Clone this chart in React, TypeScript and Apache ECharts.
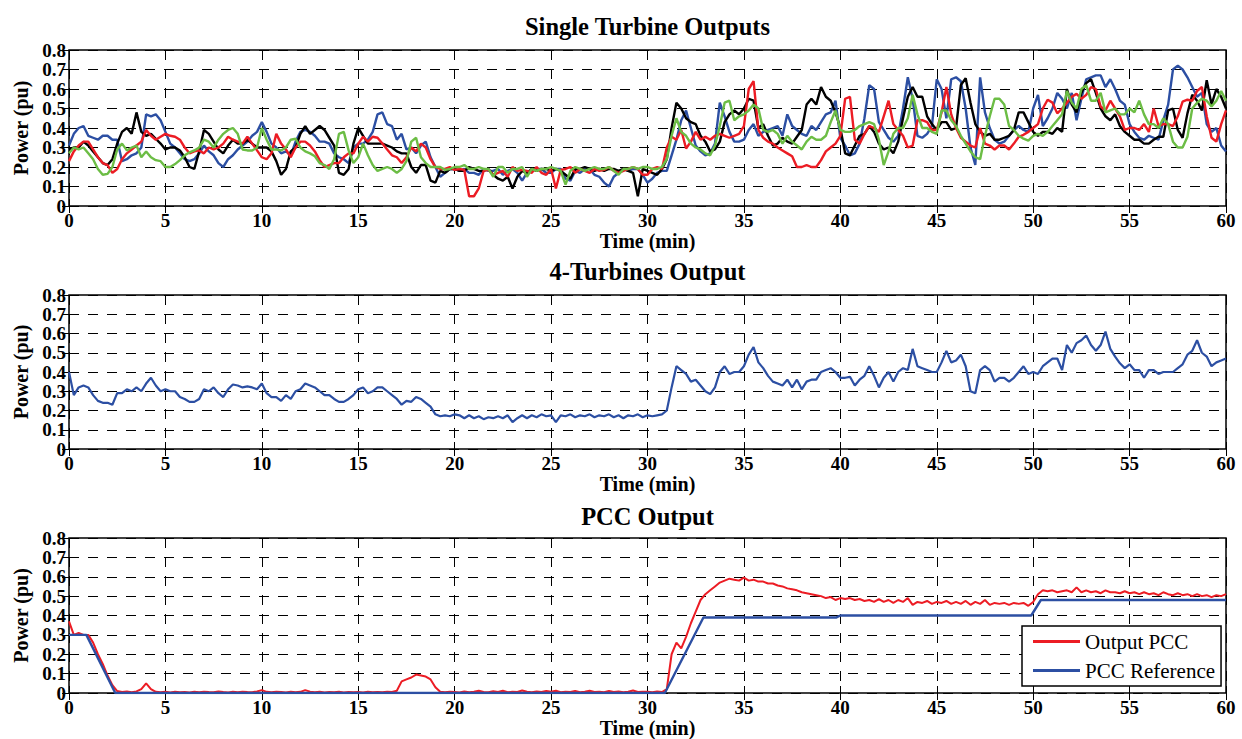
import React, { useEffect, useRef } from "react";
import * as echarts from "echarts";

// ---------- DATA ----------
const sampleStep = 0.25; // minutes between consecutive samples of every trace

const xTickLabels = ["0", "5", "10", "15", "20", "25", "30", "35", "40", "45", "50", "55", "60"];
const yTickLabels = ["0", "0.1", "0.2", "0.3", "0.4", "0.5", "0.6", "0.7", "0.8"];

// Single turbine traces (one row = 5 minutes)
const turbineBlue = [
  0.31, 0.37, 0.40, 0.41, 0.36, 0.35, 0.34, 0.36, 0.36, 0.34, 0.34, 0.23, 0.24, 0.26, 0.27, 0.30, 0.47, 0.46, 0.47, 0.44,
  0.38, 0.32, 0.30, 0.27, 0.24, 0.23, 0.24, 0.27, 0.31, 0.28, 0.26, 0.22, 0.20, 0.24, 0.26, 0.29, 0.31, 0.33, 0.36, 0.38,
  0.43, 0.38, 0.32, 0.30, 0.27, 0.28, 0.26, 0.33, 0.38, 0.39, 0.38, 0.36, 0.33, 0.33, 0.32, 0.27, 0.25, 0.24, 0.22, 0.30,
  0.32, 0.32, 0.34, 0.38, 0.47, 0.48, 0.42, 0.41, 0.34, 0.37, 0.29, 0.30, 0.27, 0.31, 0.33, 0.25, 0.20, 0.15, 0.17, 0.19,
  0.19, 0.18, 0.19, 0.17, 0.17, 0.16, 0.19, 0.18, 0.18, 0.19, 0.16, 0.18, 0.19, 0.17, 0.13, 0.17, 0.18, 0.19, 0.19, 0.17,
  0.17, 0.19, 0.19, 0.14, 0.13, 0.18, 0.17, 0.19, 0.19, 0.16, 0.15, 0.12, 0.10, 0.15, 0.17, 0.19, 0.18, 0.19, 0.19, 0.16,
  0.12, 0.14, 0.17, 0.18, 0.18, 0.26, 0.34, 0.44, 0.49, 0.40, 0.31, 0.28, 0.26, 0.27, 0.32, 0.53, 0.46, 0.38, 0.33, 0.33,
  0.34, 0.39, 0.42, 0.36, 0.38, 0.39, 0.40, 0.41, 0.36, 0.47, 0.41, 0.39, 0.37, 0.36, 0.41, 0.39, 0.43, 0.47, 0.48, 0.54,
  0.35, 0.31, 0.26, 0.27, 0.32, 0.45, 0.62, 0.60, 0.43, 0.39, 0.35, 0.33, 0.36, 0.50, 0.66, 0.55, 0.36, 0.35, 0.37, 0.41,
  0.65, 0.60, 0.45, 0.65, 0.66, 0.64, 0.50, 0.30, 0.21, 0.66, 0.48, 0.40, 0.34, 0.32, 0.33, 0.36, 0.39, 0.41, 0.39, 0.38,
  0.50, 0.57, 0.41, 0.45, 0.50, 0.58, 0.55, 0.50, 0.58, 0.44, 0.55, 0.65, 0.66, 0.67, 0.67, 0.61, 0.65, 0.60, 0.54, 0.52,
  0.42, 0.38, 0.35, 0.34, 0.36, 0.35, 0.34, 0.44, 0.52, 0.70, 0.72, 0.70, 0.66, 0.61, 0.56, 0.58, 0.42, 0.38, 0.40, 0.31,
  0.28,
];

const turbineBlack = [
  0.29, 0.30, 0.30, 0.33, 0.31, 0.28, 0.25, 0.22, 0.21, 0.24, 0.32, 0.38, 0.40, 0.37, 0.48, 0.38, 0.36, 0.37, 0.345, 0.32,
  0.29, 0.30, 0.30, 0.285, 0.25, 0.20, 0.19, 0.28, 0.39, 0.37, 0.33, 0.29, 0.27, 0.31, 0.34, 0.32, 0.32, 0.34, 0.32, 0.30,
  0.30, 0.30, 0.28, 0.23, 0.16, 0.19, 0.28, 0.30, 0.37, 0.41, 0.37, 0.39, 0.41, 0.39, 0.35, 0.31, 0.17, 0.16, 0.19, 0.32,
  0.40, 0.36, 0.32, 0.32, 0.32, 0.32, 0.31, 0.30, 0.28, 0.27, 0.27, 0.20, 0.17, 0.21, 0.21, 0.13, 0.12, 0.18, 0.17, 0.19,
  0.19, 0.18, 0.18, 0.20, 0.19, 0.18, 0.18, 0.19, 0.16, 0.14, 0.13, 0.15, 0.09, 0.15, 0.18, 0.17, 0.19, 0.18, 0.19, 0.19,
  0.18, 0.19, 0.18, 0.16, 0.14, 0.19, 0.19, 0.20, 0.19, 0.18, 0.19, 0.18, 0.19, 0.19, 0.18, 0.19, 0.18, 0.17, 0.05, 0.19,
  0.18, 0.17, 0.16, 0.19, 0.24, 0.40, 0.53, 0.50, 0.45, 0.43, 0.42, 0.36, 0.33, 0.28, 0.29, 0.33, 0.43, 0.47, 0.49, 0.47,
  0.50, 0.55, 0.54, 0.40, 0.42, 0.36, 0.31, 0.32, 0.35, 0.33, 0.32, 0.355, 0.39, 0.52, 0.55, 0.52, 0.61, 0.56, 0.54, 0.48,
  0.40, 0.27, 0.26, 0.31, 0.36, 0.37, 0.41, 0.38, 0.32, 0.29, 0.30, 0.27, 0.33, 0.45, 0.56, 0.61, 0.56, 0.56, 0.46, 0.42,
  0.39, 0.43, 0.43, 0.39, 0.40, 0.62, 0.655, 0.53, 0.42, 0.38, 0.36, 0.37, 0.34, 0.34, 0.35, 0.36, 0.39, 0.48, 0.48, 0.43,
  0.38, 0.36, 0.38, 0.38, 0.37, 0.40, 0.38, 0.60, 0.52, 0.48, 0.58, 0.63, 0.65, 0.58, 0.50, 0.46, 0.44, 0.47, 0.41, 0.38,
  0.36, 0.34, 0.34, 0.32, 0.32, 0.34, 0.355, 0.355, 0.49, 0.50, 0.39, 0.35, 0.475, 0.57, 0.54, 0.49, 0.645, 0.52, 0.60, 0.56,
  0.50,
];

const turbineRed = [
  0.23, 0.28, 0.31, 0.33, 0.33, 0.29, 0.25, 0.22, 0.21, 0.17, 0.19, 0.24, 0.27, 0.29, 0.31, 0.33, 0.39, 0.36, 0.34, 0.355,
  0.37, 0.36, 0.355, 0.34, 0.30, 0.27, 0.28, 0.285, 0.27, 0.30, 0.29, 0.30, 0.32, 0.355, 0.34, 0.33, 0.32, 0.355, 0.32, 0.285,
  0.25, 0.24, 0.27, 0.37, 0.32, 0.29, 0.25, 0.30, 0.33, 0.33, 0.31, 0.28, 0.235, 0.20, 0.21, 0.22, 0.22, 0.25, 0.27, 0.27,
  0.32, 0.355, 0.33, 0.355, 0.35, 0.32, 0.29, 0.26, 0.25, 0.22, 0.25, 0.30, 0.28, 0.32, 0.30, 0.24, 0.20, 0.19, 0.19, 0.20,
  0.185, 0.19, 0.185, 0.05, 0.05, 0.09, 0.18, 0.185, 0.16, 0.17, 0.18, 0.15, 0.20, 0.18, 0.185, 0.18, 0.17, 0.20, 0.17, 0.16,
  0.19, 0.09, 0.185, 0.19, 0.20, 0.17, 0.19, 0.18, 0.17, 0.19, 0.18, 0.185, 0.20, 0.18, 0.17, 0.18, 0.19, 0.20, 0.19, 0.16,
  0.16, 0.19, 0.20, 0.19, 0.30, 0.355, 0.34, 0.39, 0.295, 0.33, 0.38, 0.34, 0.355, 0.34, 0.36, 0.37, 0.36, 0.35, 0.36, 0.37,
  0.41, 0.60, 0.64, 0.39, 0.35, 0.33, 0.32, 0.30, 0.285, 0.27, 0.255, 0.20, 0.20, 0.21, 0.20, 0.20, 0.235, 0.28, 0.30, 0.32,
  0.36, 0.55, 0.56, 0.34, 0.32, 0.37, 0.41, 0.40, 0.38, 0.46, 0.54, 0.42, 0.39, 0.36, 0.30, 0.31, 0.44, 0.44, 0.43, 0.39,
  0.39, 0.48, 0.61, 0.47, 0.40, 0.35, 0.33, 0.31, 0.30, 0.40, 0.32, 0.31, 0.29, 0.31, 0.31, 0.29, 0.32, 0.355, 0.365, 0.38,
  0.40, 0.42, 0.50, 0.545, 0.53, 0.475, 0.50, 0.53, 0.56, 0.575, 0.55, 0.57, 0.61, 0.60, 0.51, 0.49, 0.54, 0.50, 0.46, 0.39,
  0.40, 0.40, 0.39, 0.42, 0.38, 0.50, 0.41, 0.42, 0.42, 0.41, 0.46, 0.535, 0.545, 0.54, 0.59, 0.61, 0.46, 0.35, 0.33, 0.42,
  0.49,
];

const turbineGreen = [
  0.27, 0.30, 0.29, 0.30, 0.27, 0.24, 0.19, 0.16, 0.165, 0.20, 0.29, 0.32, 0.285, 0.30, 0.31, 0.25, 0.28, 0.25, 0.235, 0.23,
  0.20, 0.20, 0.215, 0.235, 0.26, 0.275, 0.285, 0.30, 0.34, 0.33, 0.30, 0.34, 0.37, 0.39, 0.40, 0.37, 0.29, 0.285, 0.285, 0.30,
  0.40, 0.34, 0.29, 0.29, 0.285, 0.30, 0.34, 0.345, 0.30, 0.28, 0.27, 0.255, 0.22, 0.21, 0.19, 0.24, 0.37, 0.38, 0.285, 0.22,
  0.25, 0.32, 0.26, 0.21, 0.18, 0.19, 0.20, 0.19, 0.17, 0.19, 0.23, 0.33, 0.35, 0.25, 0.22, 0.20, 0.20, 0.20, 0.185, 0.19,
  0.20, 0.20, 0.21, 0.19, 0.19, 0.20, 0.19, 0.19, 0.15, 0.20, 0.20, 0.17, 0.19, 0.19, 0.20, 0.15, 0.19, 0.18, 0.19, 0.19,
  0.20, 0.19, 0.18, 0.11, 0.18, 0.20, 0.19, 0.18, 0.19, 0.20, 0.19, 0.19, 0.20, 0.18, 0.16, 0.19, 0.19, 0.20, 0.19, 0.20,
  0.20, 0.19, 0.19, 0.20, 0.24, 0.36, 0.45, 0.38, 0.36, 0.32, 0.30, 0.29, 0.27, 0.26, 0.31, 0.41, 0.53, 0.54, 0.44, 0.46,
  0.47, 0.49, 0.52, 0.50, 0.39, 0.38, 0.39, 0.37, 0.32, 0.36, 0.33, 0.31, 0.29, 0.33, 0.355, 0.34, 0.34, 0.36, 0.43, 0.49,
  0.39, 0.38, 0.38, 0.39, 0.41, 0.42, 0.43, 0.42, 0.34, 0.21, 0.28, 0.37, 0.40, 0.40, 0.45, 0.57, 0.47, 0.40, 0.40, 0.38,
  0.37, 0.49, 0.49, 0.44, 0.41, 0.36, 0.32, 0.28, 0.25, 0.24, 0.36, 0.46, 0.55, 0.55, 0.52, 0.41, 0.39, 0.36, 0.345, 0.335,
  0.36, 0.37, 0.36, 0.38, 0.41, 0.44, 0.47, 0.59, 0.53, 0.50, 0.60, 0.62, 0.54, 0.54, 0.58, 0.48, 0.49, 0.50, 0.47, 0.47,
  0.50, 0.48, 0.54, 0.47, 0.42, 0.42, 0.40, 0.45, 0.42, 0.33, 0.30, 0.30, 0.355, 0.50, 0.53, 0.55, 0.54, 0.51, 0.54, 0.59,
  0.54,
];

const fourTurbines = [
  0.40, 0.28, 0.32, 0.33, 0.32, 0.28, 0.25, 0.24, 0.24, 0.23, 0.29, 0.29, 0.31, 0.30, 0.32, 0.30, 0.34, 0.37, 0.33, 0.30,
  0.31, 0.30, 0.30, 0.27, 0.26, 0.245, 0.245, 0.26, 0.31, 0.30, 0.32, 0.29, 0.27, 0.31, 0.335, 0.33, 0.32, 0.325, 0.32, 0.31,
  0.34, 0.29, 0.27, 0.27, 0.25, 0.28, 0.26, 0.30, 0.31, 0.34, 0.33, 0.32, 0.30, 0.28, 0.28, 0.26, 0.245, 0.245, 0.26, 0.28,
  0.31, 0.32, 0.29, 0.30, 0.32, 0.32, 0.30, 0.28, 0.26, 0.23, 0.25, 0.245, 0.27, 0.26, 0.24, 0.22, 0.18, 0.17, 0.175, 0.17,
  0.18, 0.175, 0.16, 0.175, 0.16, 0.17, 0.155, 0.165, 0.16, 0.17, 0.16, 0.175, 0.14, 0.16, 0.175, 0.16, 0.175, 0.165, 0.18, 0.17,
  0.175, 0.14, 0.175, 0.17, 0.18, 0.165, 0.175, 0.17, 0.18, 0.165, 0.175, 0.17, 0.18, 0.165, 0.175, 0.16, 0.175, 0.17, 0.18, 0.165,
  0.175, 0.17, 0.175, 0.18, 0.20, 0.32, 0.43, 0.41, 0.39, 0.35, 0.36, 0.33, 0.30, 0.285, 0.32, 0.40, 0.43, 0.39, 0.40, 0.40,
  0.43, 0.49, 0.53, 0.45, 0.42, 0.38, 0.35, 0.34, 0.33, 0.36, 0.32, 0.36, 0.31, 0.35, 0.36, 0.36, 0.40, 0.41, 0.42, 0.40,
  0.37, 0.37, 0.375, 0.33, 0.36, 0.38, 0.43, 0.38, 0.32, 0.37, 0.40, 0.35, 0.40, 0.42, 0.41, 0.52, 0.43, 0.42, 0.41, 0.40,
  0.40, 0.45, 0.51, 0.45, 0.46, 0.49, 0.43, 0.30, 0.29, 0.41, 0.43, 0.41, 0.35, 0.37, 0.37, 0.35, 0.37, 0.40, 0.43, 0.39,
  0.40, 0.39, 0.43, 0.45, 0.47, 0.47, 0.41, 0.54, 0.50, 0.55, 0.565, 0.59, 0.54, 0.51, 0.54, 0.61, 0.52, 0.48, 0.445, 0.42,
  0.44, 0.41, 0.41, 0.37, 0.41, 0.41, 0.39, 0.40, 0.40, 0.40, 0.42, 0.44, 0.49, 0.51, 0.565, 0.50, 0.48, 0.43, 0.45, 0.46,
  0.47,
];

const pccOutput = [
  0.37, 0.30, 0.31, 0.30, 0.30, 0.26, 0.20, 0.15, 0.09, 0.04, 0.01, 0.005, 0.008, 0.004, 0.008, 0.02, 0.05, 0.02, 0.006, 0.004,
  0.006, 0.003, 0.007, 0.004, 0.005, 0.003, 0.006, 0.004, 0.007, 0.005, 0.004, 0.008, 0.005, 0.003, 0.006, 0.004, 0.007, 0.005, 0.004, 0.008,
  0.015, 0.006, 0.004, 0.006, 0.005, 0.003, 0.007, 0.004, 0.006, 0.015, 0.007, 0.004, 0.006, 0.003, 0.005, 0.004, 0.006, 0.003, 0.005, 0.004,
  0.005, 0.003, 0.006, 0.004, 0.005, 0.004, 0.006, 0.005, 0.012, 0.06, 0.07, 0.08, 0.095, 0.09, 0.085, 0.07, 0.03, 0.006, 0.004, 0.007,
  0.005, 0.003, 0.008, 0.004, 0.006, 0.012, 0.005, 0.004, 0.009, 0.005, 0.012, 0.004, 0.007, 0.005, 0.013, 0.006, 0.004, 0.008, 0.005, 0.011,
  0.006, 0.012, 0.004, 0.007, 0.005, 0.01, 0.004, 0.006, 0.012, 0.005, 0.007, 0.004, 0.011, 0.005, 0.008, 0.004, 0.006, 0.013, 0.005, 0.007,
  0.006, 0.004, 0.008, 0.005, 0.02, 0.20, 0.26, 0.23, 0.29, 0.36, 0.42, 0.48, 0.51, 0.53, 0.55, 0.57, 0.58, 0.59, 0.585, 0.58,
  0.595, 0.58, 0.585, 0.575, 0.575, 0.565, 0.565, 0.555, 0.55, 0.54, 0.535, 0.53, 0.52, 0.515, 0.51, 0.505, 0.50, 0.49, 0.495, 0.48,
  0.49, 0.485, 0.49, 0.48, 0.485, 0.475, 0.48, 0.47, 0.485, 0.47, 0.48, 0.465, 0.48, 0.47, 0.49, 0.455, 0.47, 0.465, 0.475, 0.46,
  0.47, 0.465, 0.475, 0.46, 0.47, 0.46, 0.475, 0.455, 0.47, 0.46, 0.48, 0.455, 0.465, 0.46, 0.465, 0.455, 0.465, 0.46, 0.465, 0.45,
  0.47, 0.51, 0.53, 0.525, 0.53, 0.52, 0.525, 0.53, 0.52, 0.545, 0.52, 0.53, 0.52, 0.525, 0.515, 0.53, 0.52, 0.52, 0.515, 0.525,
  0.515, 0.52, 0.51, 0.52, 0.51, 0.515, 0.505, 0.52, 0.51, 0.505, 0.515, 0.505, 0.51, 0.50, 0.51, 0.50, 0.505, 0.495, 0.505, 0.50,
  0.51,
];

const pccRefTimes = [0, 0.9, 2.4, 30.9, 32.9, 39.8, 40.0, 49.9, 50.4, 60];
const pccRefValues = [0.30, 0.30, 0, 0, 0.39, 0.39, 0.40, 0.40, 0.48, 0.48];

const panelTitles = ["Single Turbine Outputs", "4-Turbines Output", "PCC Output"];
const legendNames = ["Output PCC", "PCC Reference"];

// ---------- STYLE ----------
const FONT = '"Liberation Serif", "Times New Roman", serif';
const RED = "#ec1c24";
const BLUE = "#2c4fa3";
const GREEN = "#6cbd45";
const BLACK = "#000000";

const grids = [
  { left: 69, top: 50, width: 1157, height: 156 },
  { left: 69, top: 295, width: 1157, height: 154 },
  { left: 69, top: 538, width: 1157, height: 155 },
];
const titleCenters = [26, 271, 516];

const pairs = (values: number[], step: number) => values.map((v, i) => [i * step, v]);

function buildOption() {
  const dash = [10, 9];
  const tickFont = { fontFamily: FONT, fontWeight: "bold" as const, fontSize: 19, color: "#000" };
  const nameFont = { fontFamily: FONT, fontWeight: "bold" as const, fontSize: 20, color: "#000" };
  const ticks = { show: true, inside: true, length: 7, lineStyle: { color: "#000", width: 1 } };
  const labelFlags = { showMinLabel: true, showMaxLabel: true, hideOverlap: false };
  const xAxes: any[] = [];
  const yAxes: any[] = [];
  grids.forEach((_, gi) => {
    xAxes.push({
      type: "value",
      gridIndex: gi,
      min: 0,
      max: 60,
      interval: 5,
      position: "bottom",
      axisLine: { show: false },
      axisTick: ticks,
      axisLabel: { ...tickFont, ...labelFlags, margin: 5, formatter: (v: number) => xTickLabels[Math.round(v / 5)] ?? String(v) },
      splitLine: { show: true, lineStyle: { color: "#000", width: 1, type: dash } },
      name: "Time (min)",
      nameLocation: "middle",
      nameGap: 25,
      nameTextStyle: nameFont,
    });
    xAxes.push({
      type: "value",
      gridIndex: gi,
      min: 0,
      max: 60,
      interval: 5,
      position: "top",
      axisLine: { show: false },
      axisTick: ticks,
      axisLabel: { show: false },
      splitLine: { show: false },
    });
    yAxes.push({
      type: "value",
      gridIndex: gi,
      min: 0,
      max: 0.8,
      interval: 0.1,
      position: "left",
      axisLine: { show: false },
      axisTick: ticks,
      axisLabel: { ...tickFont, ...labelFlags, margin: 3, formatter: (v: number) => yTickLabels[Math.round(v * 10)] ?? String(v) },
      splitLine: { show: true, lineStyle: { color: "#000", width: 1, type: dash } },
      name: "Power (pu)",
      nameLocation: "middle",
      nameGap: 38,
      nameTextStyle: nameFont,
    });
    yAxes.push({
      type: "value",
      gridIndex: gi,
      min: 0,
      max: 0.8,
      interval: 0.1,
      position: "right",
      axisLine: { show: false },
      axisTick: ticks,
      axisLabel: { show: false },
      splitLine: { show: false },
    });
  });

  const line = (name: string, data: number[][], color: string, width: number, gi: number) => ({
    type: "line",
    name,
    data,
    xAxisIndex: gi * 2,
    yAxisIndex: gi * 2,
    symbol: "none",
    showSymbol: false,
    lineStyle: { color, width },
    itemStyle: { color },
    emphasis: { disabled: true },
  });

  return {
    animation: false,
    backgroundColor: "#ffffff",
    title: panelTitles.map((t, i) => ({
      text: t,
      left: grids[i].left + grids[i].width / 2,
      top: titleCenters[i] - 12.5,
      textAlign: "center",
      padding: 0,
      textStyle: { fontFamily: FONT, fontWeight: "bold", fontSize: 24.5, color: "#000" },
    })),
    grid: grids.map((g) => ({ ...g, show: true, borderColor: "#000", borderWidth: 1.5, backgroundColor: "transparent" })),
    xAxis: xAxes,
    yAxis: yAxes,
    legend: {
      data: legendNames,
      left: 1022,
      top: 626,
      orient: "vertical",
      icon: "rect",
      itemWidth: 47,
      itemHeight: 3,
      itemGap: 8,
      padding: [5, 6, 5, 11],
      borderColor: "#000",
      borderWidth: 1.5,
      borderRadius: 0,
      backgroundColor: "#fff",
      selectedMode: false,
      textStyle: { fontFamily: FONT, fontSize: 21, color: "#000", lineHeight: 21 },
    },
    series: [
      line("Turbine 1", pairs(turbineBlue, sampleStep), BLUE, 2.4, 0),
      line("Turbine 2", pairs(turbineBlack, sampleStep), BLACK, 2.4, 0),
      line("Turbine 3", pairs(turbineRed, sampleStep), RED, 2.4, 0),
      line("Turbine 4", pairs(turbineGreen, sampleStep), GREEN, 2.4, 0),
      line("4-Turbines", pairs(fourTurbines, sampleStep), BLUE, 2.2, 1),
      line(legendNames[0], pairs(pccOutput, sampleStep), RED, 2, 2),
      line(legendNames[1], pccRefTimes.map((t, i) => [t, pccRefValues[i]]), BLUE, 2.4, 2),
    ],
  };
}

export default function App() {
  const ref = useRef<HTMLDivElement>(null);
  useEffect(() => {
    document.body.style.margin = "0";
    const chart = echarts.init(ref.current!, null, { renderer: "svg" });
    chart.setOption(buildOption() as any);
    return () => chart.dispose();
  }, []);
  return <div ref={ref} style={{ width: 1242, height: 739 }} />;
}
